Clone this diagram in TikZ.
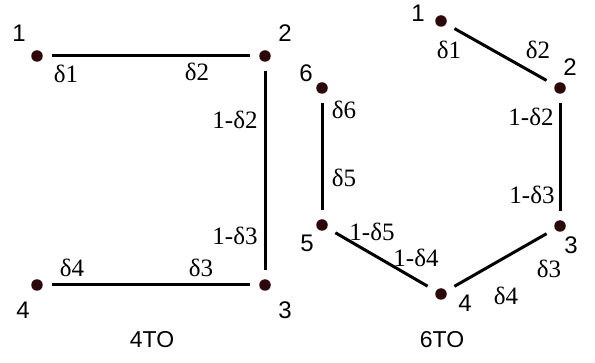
\documentclass[tikz,border=0pt]{standalone}
\usepackage{fontspec}
\setmainfont{Liberation Serif}
\newfontfamily\vnumfont{Liberation Sans}
\definecolor{dotred}{RGB}{45,8,10}
\tikzset{
  vertex/.style={circle,fill=dotred,inner sep=0pt,minimum size=11.5pt},
  edge/.style={line width=3pt,shorten <=9.5pt,shorten >=9.5pt},
  vnum/.style={inner sep=0pt,font=\vnumfont\fontsize{24}{28}\selectfont},
  wlabel/.style={inner sep=0pt,font=\fontsize{25}{29}\selectfont},
  title/.style={inner sep=0pt,font=\vnumfont\fontsize{23}{27}\selectfont}
}
\begin{document}
\begin{tikzpicture}[x=1pt,y=-1pt]
\useasboundingbox (0,0) rectangle (595,363);
% 4TO
\foreach \n/\x/\y in {1/37/56,2/265/56,3/265/285,4/37/285}
  \node[vertex] (a\n) at (\x,\y) {};
\foreach \n/\x/\y in {1/19/33,2/285/33,3/285/310,4/23/310}
  \node[vnum] (an\n) at (\x,\y) {\n};
\foreach \i/\j in {1/2,2/3,4/3}
  \draw[edge] (a\i) -- (a\j);
\foreach \t/\x/\y [count=\k] in {δ1/66/74,δ2/197/72,1-δ2/235/120,1-δ3/235/236,δ4/72/268,δ3/201/268}
  \node[wlabel] (aw\k) at (\x,\y) {\t};
\node[title] (t4) at (152,340) {4TO};

% 6TO
\foreach \n/\x/\y in {1/441/21,2/560/88,3/560/226,4/441/294,5/322/225,6/322/88}
  \node[vertex] (b\n) at (\x,\y) {};
\foreach \n/\x/\y in {1/418/13,2/570/67,3/571/245,4/465/303,5/307/243,6/306/73}
  \node[vnum] (bn\n) at (\x,\y) {\n};
\foreach \i/\j in {1/2,2/3,6/5,5/4,4/3}
  \draw[edge] (b\i) -- (b\j);
\foreach \t/\x/\y [count=\k] in {δ1/449/50,δ2/538/50,1-δ2/531/117,1-δ3/532/195,δ3/549/269,δ4/506/296,1-δ4/416/258,1-δ5/372/232,δ5/344/178,δ6/344/110}
  \node[wlabel] (bw\k) at (\x,\y) {\t};
\node[title] (t6) at (442,340) {6TO};
\end{tikzpicture}
\end{document}
